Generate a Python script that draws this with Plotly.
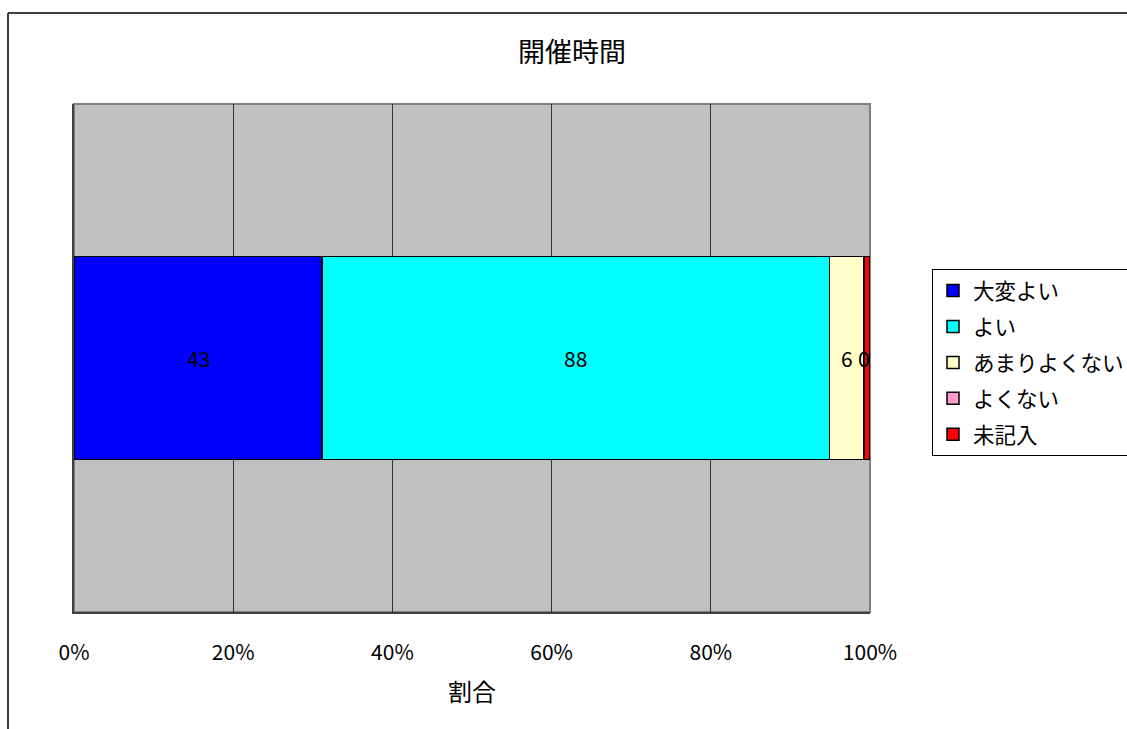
import plotly.graph_objects as go

title = "開催時間"
category = [""]
series_names = ["大変よい", "よい", "あまりよくない", "よくない", "未記入"]
series_values = [43, 88, 6, 0, 1]
series_colors = ["#0000FF", "#00FFFF", "#FFFFCC", "#FF99CC", "#FF0000"]
show_label = [True, True, True, True, False]
x_ticks = [0, 20, 40, 60, 80, 100]
x_ticktext = ["0%", "20%", "40%", "60%", "80%", "100%"]
x_title = "割合"

FONT = "Noto Sans CJK JP, sans-serif"
W, H = 1127, 729
L, R, T, B = 74, 0, 104, 117
PLOT_RIGHT = 870
pw_paper = W - L - R
ph = H - T - B
dom_end = (PLOT_RIGHT - L) / pw_paper

fig = go.Figure()
for name, val, col in zip(series_names, series_values, series_colors):
    fig.add_trace(go.Bar(
        y=category, x=[val], name=name, orientation="h",
        marker=dict(color=col, line=dict(color="#000000", width=1.5)),
        width=0.4, legendgroup=name, hoverinfo="name+x",
    ))

total = sum(series_values)
cum = 0
for val, ok in zip(series_values, show_label):
    pct = val / total * 100
    if ok:
        fig.add_annotation(x=cum + pct / 2, y=0, xref="x", yref="y", text=str(val),
                           showarrow=False, font=dict(family=FONT, size=21, color="#000000"))
    cum += pct

# chart frame (left and top edges visible)
fx = (8 - L) / pw_paper
fy = (H - B - 13) / ph
fig.add_shape(type="line", xref="paper", yref="paper", x0=fx, x1=fx, y0=-0.5, y1=fy,
              line=dict(color="#404040", width=2))
fig.add_shape(type="line", xref="paper", yref="paper", x0=fx, x1=1.2, y0=fy, y1=fy,
              line=dict(color="#404040", width=2))
# plot area border
fig.add_shape(type="rect", xref="x domain", yref="y domain", x0=0, x1=1, y0=0, y1=1,
              line=dict(color="#808080", width=2), layer="below")

fig.update_layout(
    width=W, height=H,
    margin=dict(l=L, r=R, t=T, b=B, autoexpand=False),
    paper_bgcolor="#FFFFFF", plot_bgcolor="#C0C0C0",
    barmode="stack", barnorm="percent",
    title=dict(text=title, x=572 / W, xanchor="center", xref="container",
               y=1 - 53 / H, yanchor="middle", yref="container",
               font=dict(family=FONT, size=27, color="#000000")),
    font=dict(family=FONT, color="#000000"),
    showlegend=True,
    legend=dict(x=(932 - L) / pw_paper, xanchor="left", y=(H - B - 269) / ph, yanchor="top",
                font=dict(family=FONT, size=21.5, color="#000000"),
                bgcolor="#FFFFFF", bordercolor="#000000", borderwidth=1,
                traceorder="grouped", tracegroupgap=5, itemwidth=30),
    xaxis=dict(domain=[0, dom_end], range=[0, 100], tickvals=x_ticks, ticktext=x_ticktext,
               showgrid=True, gridcolor="#333333", gridwidth=1,
               showline=True, linecolor="#404040", linewidth=2,
               ticks="", ticklabelstandoff=21, zeroline=False,
               tickfont=dict(family=FONT, size=21, color="#000000"),
               title=dict(text=x_title, font=dict(family=FONT, size=24, color="#000000"), standoff=19)),
    yaxis=dict(range=[-0.5, 0.5], showticklabels=False, showgrid=False,
               showline=True, linecolor="#404040", linewidth=2, ticks="", zeroline=False),
)

fig.write_html("out.html")
